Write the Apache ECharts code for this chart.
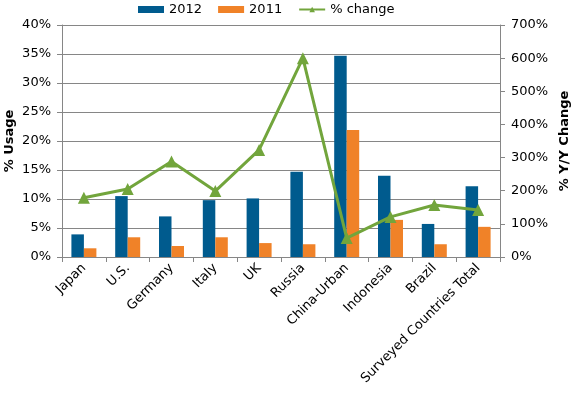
<!DOCTYPE html>
<html>
<head>
<meta charset="utf-8">
<script src="https://cdn.jsdelivr.net/npm/echarts@6/dist/echarts.min.js"></script>
<style>
  html, body { margin: 0; padding: 0; background: #fff; }
  #chart { width: 572px; height: 397px; }
</style>
</head>
<body>
<div id="chart"></div>
<script>
// data
var countries = ["Japan", "U.S.", "Germany", "Italy", "UK", "Russia", "China-Urban", "Indonesia", "Brazil", "Surveyed Countries Total"];
var usage2012 = [3.9, 10.5, 7.0, 9.8, 10.1, 14.7, 34.7, 14.0, 5.7, 12.2];
var usage2011 = [1.5, 3.4, 1.9, 3.4, 2.4, 2.2, 21.9, 6.4, 2.2, 5.2];
var yoyChange = [179, 205, 288, 199, 323, 600, 57, 121, 157, 142];

var font = "DejaVu Sans";
var myChart = echarts.init(document.getElementById("chart"));

myChart.setOption({
  animation: false,
  textStyle: { fontFamily: font },
  legend: {
    top: -2,
    left: 133,
    itemGap: 16,
    itemWidth: 26,
    itemHeight: 7,
    textStyle: { fontFamily: font, fontSize: 13, color: "#000" },
    data: [
      { name: "2012", icon: "rect" },
      { name: "2011", icon: "rect" },
      { name: "% change" }
    ]
  },
  grid: { left: 62, right: 72, top: 25, bottom: 140, outerBoundsMode: "none" },
  xAxis: {
    type: "category",
    data: countries,
    axisLine: { lineStyle: { color: "#868686" } },
    axisTick: { show: true, length: 5, lineStyle: { color: "#868686" } },
    axisLabel: { rotate: 45, color: "#000", fontSize: 13, fontFamily: font, margin: 9, interval: 0 }
  },
  yAxis: [
    {
      type: "value",
      min: 0, max: 40, interval: 5,
      name: "% Usage",
      nameLocation: "middle",
      nameGap: 46,
      nameMoveOverlap: false,
      nameTextStyle: { fontWeight: "bold", fontSize: 13, color: "#000", fontFamily: font },
      axisLine: { show: true, lineStyle: { color: "#868686" } },
      axisTick: { show: true, length: 5, lineStyle: { color: "#868686" } },
      axisLabel: { formatter: "{value}%", color: "#000", fontSize: 13, fontFamily: font, margin: 11 },
      splitLine: { lineStyle: { color: "#868686" } }
    },
    {
      type: "value",
      min: 0, max: 700, interval: 100,
      name: "% Y/Y Change",
      nameLocation: "middle",
      nameGap: 58,
      nameRotate: 90,
      nameMoveOverlap: false,
      nameTextStyle: { fontWeight: "bold", fontSize: 13, color: "#000", fontFamily: font },
      axisLine: { show: true, lineStyle: { color: "#868686" } },
      axisTick: { show: true, length: 5, lineStyle: { color: "#868686" } },
      axisLabel: { formatter: "{value}%", color: "#000", fontSize: 13, fontFamily: font, margin: 11 },
      splitLine: { show: false }
    }
  ],
  series: [
    {
      name: "2012",
      type: "bar",
      data: usage2012,
      barWidth: 12.5,
      barGap: "0%",
      itemStyle: { color: "#005B8E" }
    },
    {
      name: "2011",
      type: "bar",
      data: usage2011,
      barWidth: 12.5,
      itemStyle: { color: "#F08228" }
    },
    {
      name: "% change",
      type: "line",
      yAxisIndex: 1,
      data: yoyChange,
      symbol: "triangle",
      symbolSize: 12,
      lineStyle: { color: "#72A53C", width: 3 },
      itemStyle: { color: "#72A53C" }
    }
  ]
});
</script>
</body>
</html>
